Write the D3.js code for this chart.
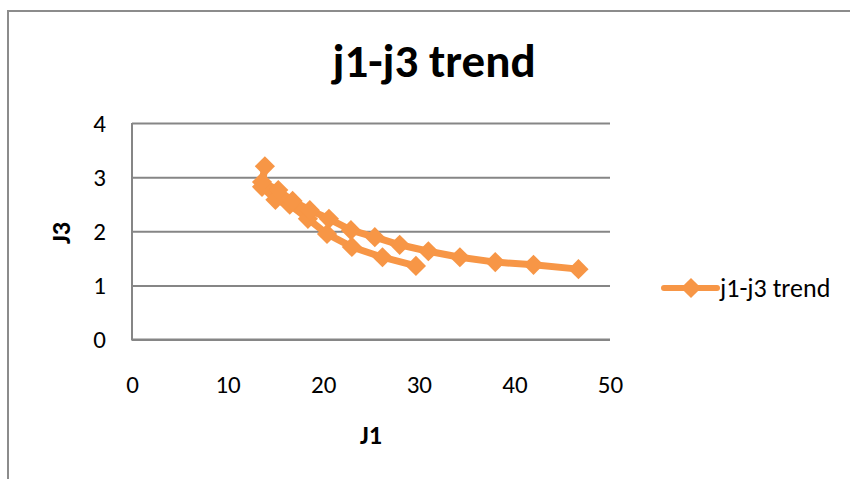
<!DOCTYPE html>
<html>
<head>
<meta charset="utf-8">
<script src="https://cdn.jsdelivr.net/npm/d3@7"></script>
<style>
  html, body { margin: 0; padding: 0; background: #ffffff; }
  svg { display: block; }
</style>
</head>
<body>
<svg id="chart" width="850" height="479"></svg>
<script>
// Series: J1 (x) and J3 (y), in plotting order
const j1 = [29.7, 26.2, 23.0, 20.4, 18.4, 16.5, 15.0, 13.6, 13.9,
            13.6, 15.3, 16.8, 18.6, 20.6, 22.9, 25.4, 28.0, 31.0, 34.3, 38.0, 42.0, 46.7];
const j3 = [1.36, 1.52, 1.71, 1.95, 2.23, 2.49, 2.58, 2.82, 3.20,
            2.91, 2.76, 2.56, 2.39, 2.23, 2.02, 1.89, 1.75, 1.63, 1.52, 1.43, 1.38, 1.30];
const xTicks = [0, 10, 20, 30, 40, 50];
const yTicks = [0, 1, 2, 3, 4];
const seriesName = "j1-j3 trend";
const titleText = "j1-j3 trend";
const xTitle = "J1";
const yTitle = "J3";

const points = j1.map((v, i) => ({ x: v, y: j3[i] }));

const orange = "#F79646";
const grid = "#868686";
const font = "Carlito, Calibri, 'Open Sans', sans-serif";

const svg = d3.select("#chart");

// outer chart frame (top and left edges)
svg.append("path")
  .attr("d", "M8,479 L8,11 L850,11")
  .attr("fill", "none")
  .attr("stroke", "#8c8c8c")
  .attr("stroke-width", 2);

const plot = { left: 132, top: 123, right: 610, bottom: 339.5 };

const x = d3.scaleLinear().domain([0, 50]).range([plot.left, plot.right]);
const y = d3.scaleLinear().domain([0, 4]).range([plot.bottom, plot.top]);

// horizontal gridlines with value labels
const yAxis = d3.axisLeft(y).tickValues(yTicks)
  .tickSize(-(plot.right - plot.left)).tickPadding(26).tickFormat(d3.format("d"));
const gy = svg.append("g").attr("transform", `translate(${plot.left},0)`).call(yAxis);
gy.select(".domain").remove();
gy.selectAll(".tick line").attr("stroke", grid).attr("stroke-width", 2);
gy.selectAll(".tick text")
  .attr("font-family", font).attr("font-size", 25).attr("fill", "#000");

// plot area left border and bottom
svg.append("path")
  .attr("d", `M${plot.left},${plot.top} L${plot.left},${plot.bottom} L${plot.right},${plot.bottom}`)
  .attr("fill", "none").attr("stroke", grid).attr("stroke-width", 2);

const xAxis = d3.axisBottom(x).tickValues(xTicks).tickSize(0).tickPadding(36).tickFormat(d3.format("d"));
const gx = svg.append("g").attr("transform", `translate(0,${plot.bottom})`).call(xAxis);
gx.select(".domain").remove();
gx.selectAll(".tick text")
  .attr("font-family", font).attr("font-size", 25).attr("fill", "#000");

// series line
const line = d3.line().x(d => x(d.x)).y(d => y(d.y));
svg.append("path")
  .datum(points)
  .attr("d", line)
  .attr("fill", "none")
  .attr("stroke", orange)
  .attr("stroke-width", 7)
  .attr("stroke-linejoin", "round");

// diamond markers
const diamond = d3.symbol().type(d3.symbolDiamond2).size(260);
svg.append("g").selectAll("path")
  .data(points)
  .join("path")
  .attr("d", diamond)
  .attr("transform", d => `translate(${x(d.x)},${y(d.y)})`)
  .attr("fill", orange);

// title
svg.append("text")
  .attr("x", 434).attr("y", 77)
  .attr("text-anchor", "middle")
  .attr("font-family", font)
  .attr("font-weight", "bold")
  .attr("font-size", 47)
  .text(titleText);

// axis titles
svg.append("text")
  .attr("x", 371).attr("y", 444)
  .attr("text-anchor", "middle")
  .attr("font-family", font).attr("font-weight", "bold").attr("font-size", 26)
  .text(xTitle);

svg.append("text")
  .attr("transform", "translate(70,233) rotate(-90)")
  .attr("text-anchor", "middle")
  .attr("font-family", font).attr("font-weight", "bold").attr("font-size", 26)
  .text(yTitle);

// legend
const lg = svg.append("g").attr("transform", "translate(664,288)");
lg.append("line").attr("x1", 0).attr("x2", 53).attr("y1", 0).attr("y2", 0)
  .attr("stroke", orange).attr("stroke-width", 6).attr("stroke-linecap", "round");
lg.append("path").attr("d", diamond).attr("transform", "translate(27,0)").attr("fill", orange);
lg.append("text").attr("x", 56).attr("y", 0).attr("dy", "0.35em")
  .attr("font-family", font).attr("font-size", 26).attr("fill", "#000")
  .text(seriesName);
</script>
</body>
</html>
